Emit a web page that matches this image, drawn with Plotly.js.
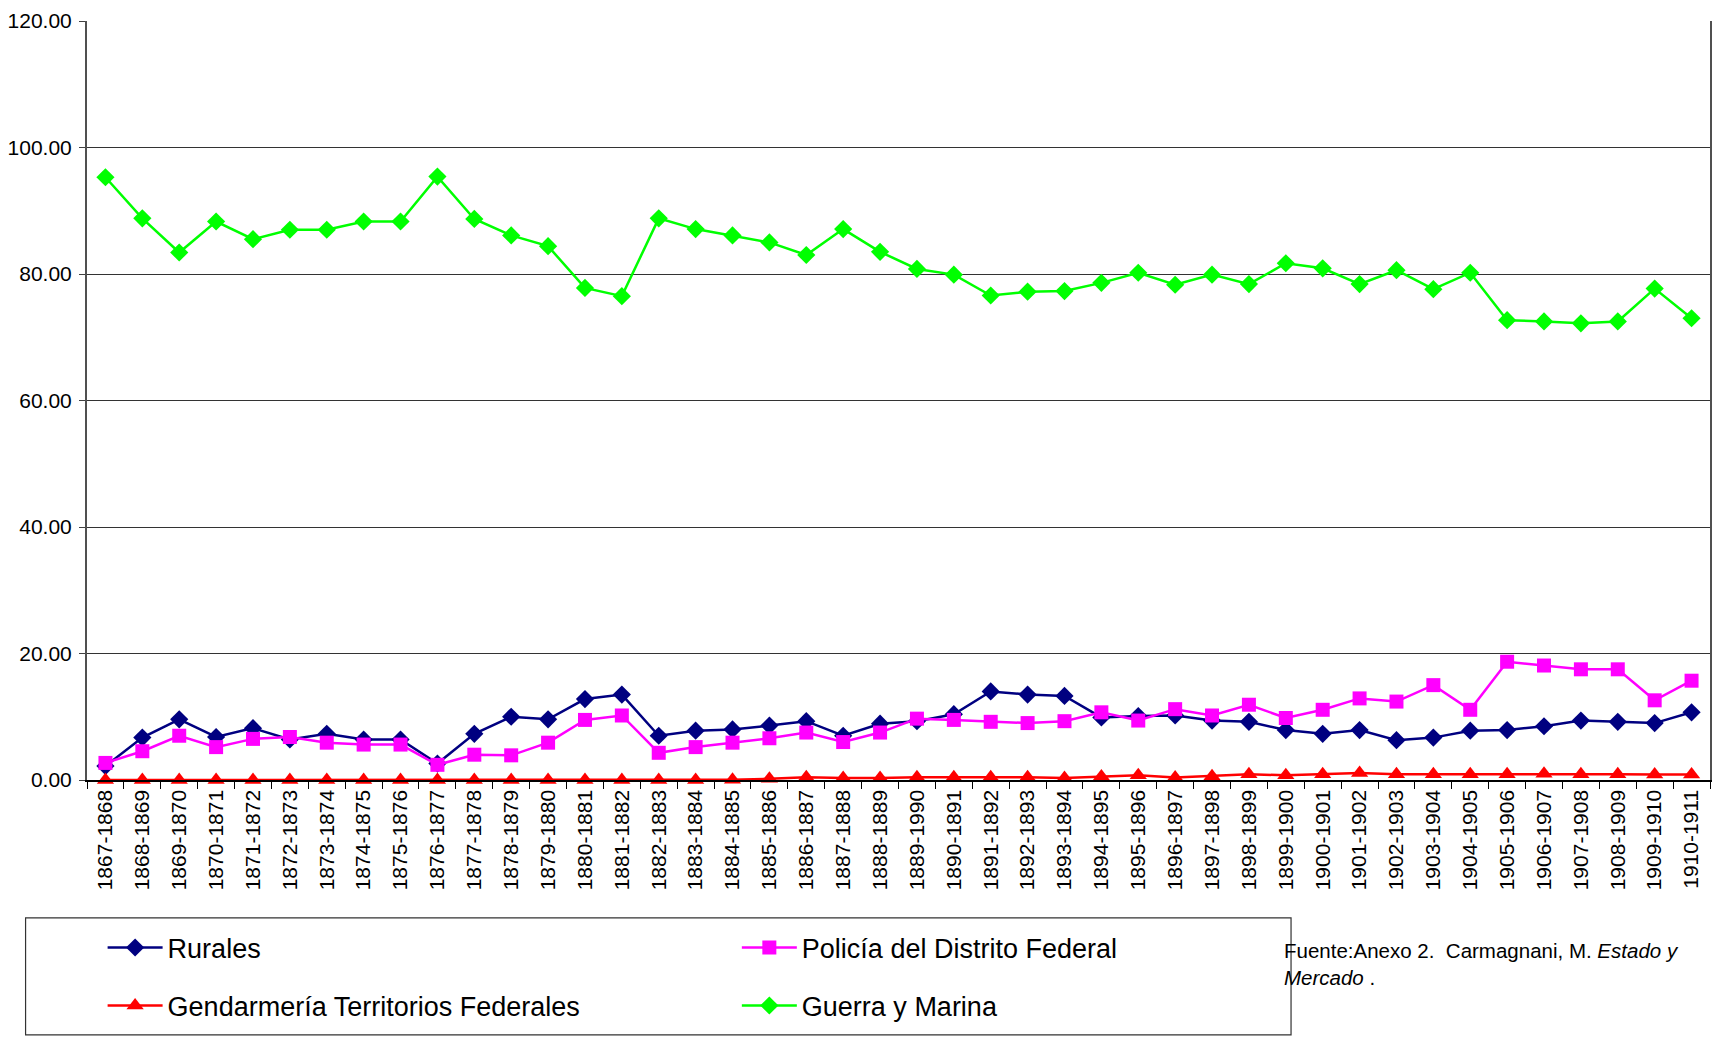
<!DOCTYPE html>
<html>
<head>
<meta charset="utf-8">
<script src="https://cdn.plot.ly/plotly-3.0.1.min.js"></script>
<style>html,body{margin:0;padding:0;background:#fff;}#chart{width:1713px;height:1037px;}</style>
</head>
<body>
<div id="chart"></div>
<script>
const periods = ["1867-1868","1868-1869","1869-1870","1870-1871","1871-1872","1872-1873","1873-1874","1874-1875","1875-1876","1876-1877","1877-1878","1878-1879","1879-1880","1880-1881","1881-1882","1882-1883","1883-1884","1884-1885","1885-1886","1886-1887","1887-1888","1888-1889","1889-1990","1890-1891","1891-1892","1892-1893","1893-1894","1894-1895","1895-1896","1896-1897","1897-1898","1898-1899","1899-1900","1900-1901","1901-1902","1902-1903","1903-1904","1904-1905","1905-1906","1906-1907","1907-1908","1908-1909","1909-1910","1910-1911"];

const rurales = [2.2,6.7,9.6,6.8,8.2,6.4,7.3,6.4,6.4,2.6,7.3,10.0,9.6,12.8,13.5,7.0,7.8,8.0,8.6,9.3,7.0,8.9,9.3,10.4,14.0,13.5,13.3,9.9,10.1,10.2,9.4,9.2,7.9,7.3,7.9,6.3,6.7,7.8,7.9,8.5,9.4,9.2,9.0,10.7];

const policia = [2.7,4.55,7.0,5.2,6.5,6.8,5.9,5.6,5.6,2.4,4.0,3.9,5.9,9.5,10.2,4.3,5.2,5.9,6.6,7.5,6.0,7.5,9.7,9.5,9.2,9.0,9.3,10.7,9.4,11.2,10.2,11.9,9.8,11.1,12.9,12.4,15.0,11.1,18.7,18.1,17.5,17.5,12.6,15.7];

const gendarmeria = [0,0,0,0,0,0,0,0,0,0,0,0,0,0,0,0,0,0.05,0.2,0.45,0.3,0.3,0.45,0.45,0.45,0.45,0.3,0.55,0.75,0.4,0.6,0.9,0.75,0.9,1.1,0.9,0.9,0.9,0.9,1.0,0.9,0.9,0.85,0.85];

const guerra = [95.3,88.8,83.4,88.3,85.5,87.0,87.0,88.3,88.3,95.4,88.7,86.1,84.4,77.8,76.5,88.8,87.1,86.1,85.0,83.0,87.1,83.5,80.8,79.9,76.6,77.2,77.3,78.6,80.2,78.3,79.9,78.4,81.7,80.9,78.4,80.6,77.6,80.2,72.7,72.5,72.2,72.5,77.7,73.0];

const seriesNames = ["Rurales","Policía del Distrito Federal","Gendarmería Territorios Federales","Guerra y Marina"];
const yTicks = [0,20,40,60,80,100,120];

const FONT = "Liberation Sans, Arial, sans-serif";

function tr(name, y, color, symbol, size, legend) {
  return {
    type: "scatter", mode: "lines+markers", name: name, x: periods, y: y,
    line: {color: color, width: 2.5},
    marker: {color: color, symbol: symbol, size: size},
    cliponaxis: false, legend: legend
  };
}

const data = [
  tr(seriesNames[0], rurales, "#000080", "diamond", 14, "legend"),
  tr(seriesNames[1], policia, "#FF00FF", "square", 14, "legend2"),
  tr(seriesNames[2], gendarmeria, "#FF0000", "triangle-up", 15, "legend3"),
  tr(seriesNames[3], guerra, "#00FF00", "diamond", 14, "legend4")
];

const L = 87.4, R = 1709.8, T = 20.8, B = 780;
const px = v => (v - L) / (R - L);
const py = v => (B - v) / (B - T);

const ITEMW = 55;
function leg(x, y) {
  return {x: px(x), y: py(y), xanchor: "left", yanchor: "middle", itemwidth: ITEMW,
    font: {family: FONT, size: 27, color: "#000"}, bgcolor: "rgba(0,0,0,0)", borderwidth: 0};
}

const layout = {
  width: 1713, height: 1037,
  margin: {l: L, r: 1713 - R, t: T, b: 1037 - B, pad: 0},
  paper_bgcolor: "#fff", plot_bgcolor: "#fff",
  font: {family: FONT, color: "#000"},
  showlegend: true,
  xaxis: {
    type: "category", range: [-0.5, periods.length - 0.5],
    tickson: "boundaries", ticks: "outside", ticklen: 7, tickcolor: "#000",
    tickangle: -90, tickfont: {family: FONT, size: 21, color: "#000"},
    showline: true, linecolor: "#000", linewidth: 1.5,
    showgrid: false, zeroline: false, fixedrange: true
  },
  yaxis: {
    range: [0, 120], tickvals: yTicks, tickformat: ".2f",
    ticks: "outside", ticklen: 6, tickcolor: "#404040", ticklabelstandoff: 3,
    tickfont: {family: FONT, size: 21, color: "#000"},
    showline: true, mirror: true, linecolor: "#505050", linewidth: 2,
    showgrid: true, gridcolor: "#333333", gridwidth: 1,
    zeroline: false, fixedrange: true
  },
  legend: leg(168 - ITEMW - 10, 948),
  legend2: leg(802 - ITEMW - 10, 948),
  legend3: leg(168 - ITEMW - 10, 1006),
  legend4: leg(802 - ITEMW - 10, 1006),
  shapes: [{
    type: "rect", xref: "paper", yref: "paper",
    x0: px(26), x1: px(1291), y0: py(918), y1: py(1035),
    line: {color: "#333", width: 1.2}, fillcolor: "rgba(0,0,0,0)", layer: "below"
  }],
  annotations: [{
    xref: "paper", yref: "paper", x: px(1282), y: py(937),
    xanchor: "left", yanchor: "top", align: "left", showarrow: false,
    text: "Fuente:Anexo 2.  Carmagnani, M. <i>Estado y</i><br><i>Mercado</i> .",
    font: {family: FONT, size: 20.5, color: "#000"}
  }]
};

Plotly.newPlot("chart", data, layout, {displayModeBar: false, staticPlot: true});
</script>
</body>
</html>
